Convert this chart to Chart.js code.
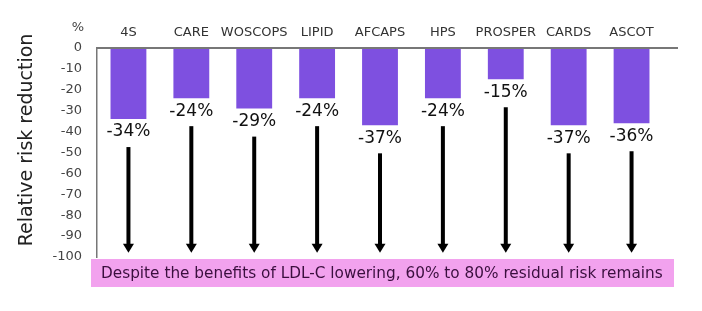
<!DOCTYPE html>
<html><head><meta charset="utf-8">
<script src="https://cdn.jsdelivr.net/npm/chart.js@4"></script>
<style>html,body{margin:0;padding:0;background:#fff}#wrap{width:702px;height:311px;position:relative}</style>
</head><body><div id="wrap"><canvas id="c" width="702" height="311"></canvas></div>
<script>
const categories = ['4S', 'CARE', 'WOSCOPS', 'LIPID', 'AFCAPS', 'HPS', 'PROSPER', 'CARDS', 'ASCOT'];
const reductions = [-34, -24, -29, -24, -37, -24, -15, -37, -36];
const yMin = -100;
const yMax = 0;
const yStep = 10;
const arrowEnd = -98;
const noteText = 'Despite the benefits of LDL-C lowering, 60% to 80% residual risk remains';
const axisTitle = 'Relative risk reduction';
const unitLabel = '%';

const FONT = 'DejaVu Sans';

const overlay = {
  id: 'overlay',
  afterDatasetsDraw(chart) {
    const ctx = chart.ctx;
    const ca = chart.chartArea;
    const ys = chart.scales.y;
    ctx.save();
    // top axis line at zero
    const y0 = ys.getPixelForValue(0);
    ctx.strokeStyle = '#777';
    ctx.lineWidth = 2;
    ctx.beginPath();
    ctx.moveTo(ca.left, y0);
    ctx.lineTo(ca.right + 15, y0);
    ctx.stroke();

    // value labels and arrows
    const meta = chart.getDatasetMeta(0);
    const tipY = ys.getPixelForValue(arrowEnd);
    meta.data.forEach((el, i) => {
      const x = el.x, yb = el.y;
      ctx.fillStyle = '#111';
      ctx.font = '17px "' + FONT + '"';
      ctx.textAlign = 'center';
      ctx.textBaseline = 'middle';
      ctx.fillText(reductions[i] + '%', x, yb + 13);
      ctx.strokeStyle = '#000';
      ctx.lineWidth = 4;
      ctx.beginPath();
      ctx.moveTo(x, yb + 28);
      ctx.lineTo(x, tipY - 7);
      ctx.stroke();
      ctx.fillStyle = '#000';
      ctx.beginPath();
      ctx.moveTo(x - 5.5, tipY - 9);
      ctx.lineTo(x + 5.5, tipY - 9);
      ctx.lineTo(x, tipY);
      ctx.closePath();
      ctx.fill();
    });

    // unit label
    ctx.fillStyle = '#444';
    ctx.font = '13px "' + FONT + '"';
    ctx.textAlign = 'center';
    ctx.textBaseline = 'middle';
    ctx.fillText(unitLabel, ca.left - 19, 28);

    // y title
    ctx.save();
    ctx.translate(27, 140);
    ctx.rotate(-Math.PI / 2);
    ctx.fillStyle = '#222';
    ctx.font = '19px "' + FONT + '"';
    ctx.textAlign = 'center';
    ctx.textBaseline = 'middle';
    ctx.fillText(axisTitle, 0, 0);
    ctx.restore();

    // note box
    const bx = ca.left - 6, by = ca.bottom + 2, bw = (ca.right + 11) - bx, bh = 28;
    ctx.fillStyle = '#F2A2EE';
    ctx.fillRect(bx, by, bw, bh);
    ctx.fillStyle = '#3a0f3e';
    ctx.font = '15.3px "' + FONT + '"';
    ctx.textAlign = 'left';
    ctx.textBaseline = 'middle';
    ctx.fillText(noteText, bx + 10, by + bh / 2 + 1);
    ctx.restore();
  }
};

new Chart(document.getElementById('c'), {
  type: 'bar',
  data: {
    labels: categories,
    datasets: [{
      data: reductions,
      backgroundColor: '#7E50E0',
      borderWidth: 0,
      barPercentage: 0.57,
      categoryPercentage: 1.0
    }]
  },
  options: {
    responsive: false,
    animation: false,
    devicePixelRatio: 1,
    layout: { padding: { left: 16, right: 39, top: 0, bottom: 54 } },
    plugins: { legend: { display: false }, tooltip: { enabled: false }, title: { display: false } },
    scales: {
      x: {
        type: 'category',
        position: 'top',
        grid: { display: false, drawTicks: false },
        border: { display: false },
        ticks: { color: '#333', font: { family: FONT, size: 13 }, padding: 8, maxRotation: 0, autoSkip: false },
        afterFit(s) { s.height = 48; }
      },
      y: {
        min: yMin,
        max: yMax,
        grid: { display: false, drawTicks: false },
        border: { display: true, color: '#777', width: 1.5 },
        ticks: { stepSize: yStep, color: '#444', font: { family: FONT, size: 13 }, padding: 15 },
        afterFit(s) { s.width = 81; }
      }
    }
  },
  plugins: [overlay]
});
</script>
</body></html>
